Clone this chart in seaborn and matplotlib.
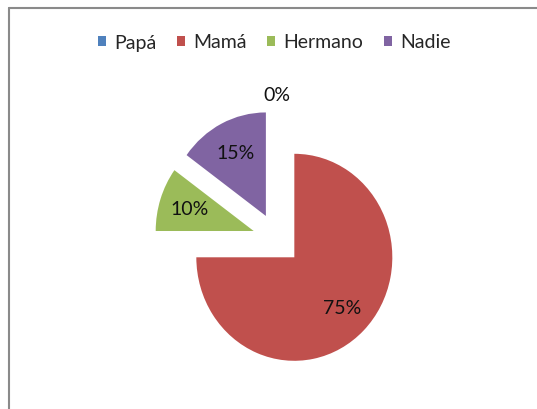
import numpy as np
import matplotlib
matplotlib.use("Agg")
import matplotlib.pyplot as plt
from matplotlib.patches import Patch
from matplotlib.lines import Line2D
import seaborn as sns

categories = ["Papá", "Mamá", "Hermano", "Nadie"]
values = [0, 75, 10, 15]
pct_labels = ["0%", "75%", "10%", "15%"]
colors = ["#4F81BD", "#C0504D", "#9BBB59", "#8064A2"]

sns.set_theme(style="white")
plt.rcParams["font.family"] = ["Lato", "DejaVu Sans"]

W, H = 537, 410
fig = plt.figure(figsize=(W / 100, H / 100), dpi=100)
fig.patch.set_facecolor("white")

# chart border (only top and left edges visible)
fig.add_artist(Line2D([9 / W, 9 / W], [0, 1 - 9 / H], transform=fig.transFigure,
                      color="#8a8a8a", lw=1.5))
fig.add_artist(Line2D([9 / W, 1], [1 - 9 / H, 1 - 9 / H], transform=fig.transFigure,
                      color="#8a8a8a", lw=1.5))

ax = fig.add_axes([0, 0, 1, 1])
cx, cy, rx, ry = 277, 240, 98, 103.5
wedges, _ = ax.pie(values, colors=colors, startangle=90, counterclock=False,
                   explode=[0.25] * len(values), radius=1,
                   wedgeprops=dict(linewidth=0))
ax.set_aspect("auto")
ax.set_xlim(-cx / rx, (W - cx) / rx)
ax.set_ylim((cy - H) / ry, cy / ry)
ax.axis("off")

for w, v, lab in zip(wedges, values, pct_labels):
    ang = np.deg2rad((w.theta1 + w.theta2) / 2)
    x0, y0 = w.center
    d = 1.15 if v == 0 else 0.69
    ax.text(x0 + d * np.cos(ang), y0 + d * np.sin(ang), lab,
            ha="center", va="center", fontsize=14, color="#111111")

handles = [Patch(facecolor=c, edgecolor="none") for c in colors]
fig.legend(handles, categories, loc="center", bbox_to_anchor=(274 / W, 1 - 43 / H),
           ncol=4, frameon=False, fontsize=14, handlelength=0.42, handleheight=0.42,
           handletextpad=0.42, columnspacing=1.05, borderaxespad=0, borderpad=0)

fig.savefig("out.png", dpi=100, facecolor="white")
